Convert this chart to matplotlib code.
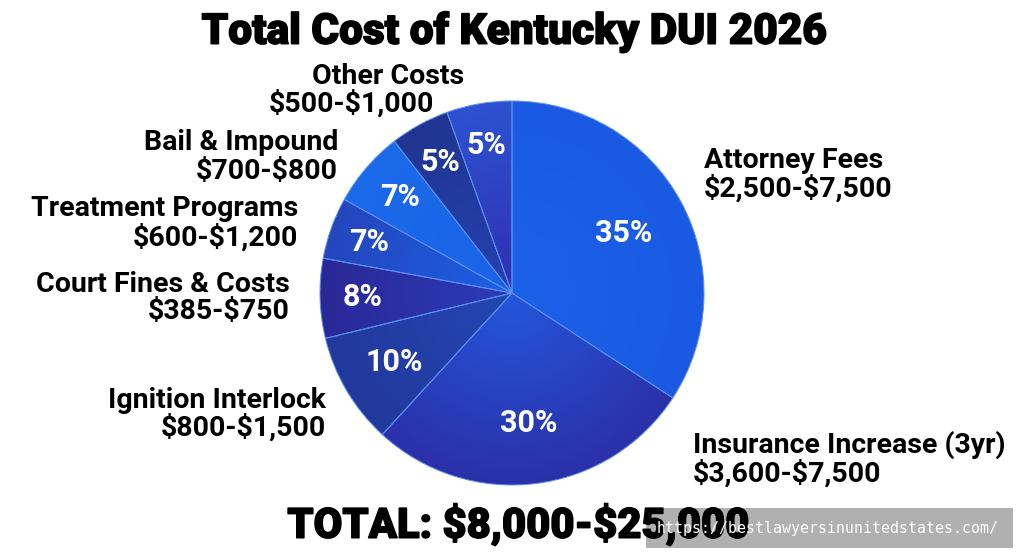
import numpy as np
import matplotlib.pyplot as plt
import matplotlib.colors as mcolors
import matplotlib.patheffects as pe

plt.rcParams['text.parse_math'] = False

# slices, clockwise from 12 o'clock
names = ['Attorney Fees', 'Insurance Increase (3yr)', 'Ignition Interlock',
         'Court Fines & Costs', 'Treatment Programs', 'Bail & Impound',
         'Other Costs', '']
ranges = ['$2,500-$7,500', '$3,600-$7,500', '$800-$1,500', '$385-$750',
          '$600-$1,200', '$700-$800', '$500-$1,000', '']
pct_labels = [35, 30, 10, 8, 7, 7, 5, 5]
# wedge sizes as drawn in the picture (share of the circle, %)
wedge_share = [34.2, 27.6, 9.4, 6.7, 5.2, 6.4, 5.0, 5.5]
total_text = 'TOTAL: $8,000-$25,000'

# inner / outer colour of each wedge (shaded towards the rim)
inner_colors = ['#1d60e8', '#2457dc', '#2446b2', '#2b3cb8',
                '#1d5fe6', '#1b62e6', '#2442b2', '#2f30b0']
outer_colors = ['#1a5ae2', '#2b30a8', '#22399c', '#2a2896',
                '#2446bc', '#1a6aea', '#203590', '#2d52d0']

W, H = 1024, 559
fig = plt.figure(figsize=(W / 100, H / 100), dpi=100)
fig.patch.set_facecolor('white')

def fx(x):
    return x / W

def fy(y):
    return 1 - y / H

cx, cy, R = 512, 293, 192
ax = fig.add_axes([fx(cx - R), fy(cy + R), 2 * R / W, 2 * R / H])
wedges, _ = ax.pie(wedge_share, colors=inner_colors, startangle=90, counterclock=False,
                   radius=1, wedgeprops=dict(edgecolor='#5b8ff2', linewidth=0.7))

g = np.linspace(-1, 1, 400)
gx, gy = np.meshgrid(g, g)
rr = np.clip(np.hypot(gx, gy), 0, 1)[..., None]
for w, ci, co in zip(wedges, inner_colors, outer_colors):
    a = np.array(mcolors.to_rgb(ci))
    b = np.array(mcolors.to_rgb(co))
    img = a + (b - a) * rr
    im = ax.imshow(img, extent=[-1, 1, -1, 1], origin='lower', zorder=1,
                   interpolation='bilinear')
    im.set_clip_path(w)
    w.set_facecolor('none')
    w.set_zorder(2)

ax.set_xlim(-1, 1)
ax.set_ylim(-1, 1)
ax.set_aspect('equal')
ax.axis('off')

# percentage labels inside the wedges
pct_r = [0.66, 0.68, 0.71, 0.78, 0.79, 0.77, 0.78, 0.78]
for w, p, r in zip(wedges, pct_labels, pct_r):
    mid = np.deg2rad((w.theta1 + w.theta2) / 2)
    ax.text(r * np.cos(mid), r * np.sin(mid), f'{p}%', ha='center', va='center',
            color='white', fontsize=22, fontweight='bold', family='Roboto', zorder=3)

lab = dict(fontsize=20.5, fontweight='bold', family='Roboto', color='black', va='center')

# left side labels
fig.text(fx(388), fy(76), names[6], ha='center', **lab)
fig.text(fx(351), fy(104), ranges[6], ha='center', **lab)
fig.text(fx(338), fy(142), names[5], ha='right', **lab)
fig.text(fx(338), fy(171), ranges[5], ha='right', **lab)
fig.text(fx(298), fy(209), names[4], ha='right', **lab)
fig.text(fx(298), fy(238), ranges[4], ha='right', **lab)
fig.text(fx(290), fy(284), names[3], ha='right', **lab)
fig.text(fx(290), fy(312), ranges[3], ha='right', **lab)
fig.text(fx(326), fy(400), names[2], ha='right', **lab)
fig.text(fx(326), fy(428), ranges[2], ha='right', **lab)
# right side
fig.text(fx(704), fy(160), names[0], ha='left', **lab)
fig.text(fx(704), fy(189), ranges[0], ha='left', **lab)
fig.text(fx(693), fy(445), names[1], ha='left', **lab)
fig.text(fx(693), fy(474), ranges[1], ha='left', **lab)

thick = [pe.withStroke(linewidth=1.1, foreground='black')]
fig.text(fx(514), fy(32), 'Total Cost of Kentucky DUI 2026', ha='center', va='center',
         fontsize=30.5, fontweight='heavy', family='Roboto', color='black',
         path_effects=thick)

# watermark box behind the total line
fig.patches.append(plt.Rectangle((fx(646), fy(548)), (1013 - 646) / W, 40 / H,
                                 transform=fig.transFigure, facecolor='#b0b0b0',
                                 edgecolor='none', zorder=1))
fig.text(fx(518), fy(525), total_text, ha='center', va='center', fontsize=30,
         fontweight='heavy', family='Roboto', color='black', zorder=2,
         path_effects=thick)
fig.text(fx(657), fy(528), 'https://bestlawyersinunitedstates.com/', ha='left',
         va='center', fontsize=10.7, family='DejaVu Sans Mono', color='white', zorder=3)

fig.savefig('out.png', dpi=100)
